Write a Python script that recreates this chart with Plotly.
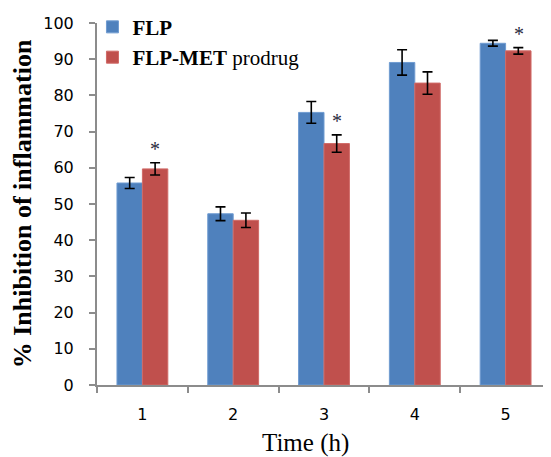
import plotly.graph_objects as go

times = ["1", "2", "3", "4", "5"]
flp = [55.8, 47.3, 75.3, 89.1, 94.4]
flp_err = [1.5, 1.9, 3.0, 3.5, 0.8]
prodrug = [59.7, 45.5, 66.7, 83.4, 92.3]
prodrug_err = [1.7, 2.0, 2.4, 3.1, 0.9]
significant = ["1", "3", "5"]  # prodrug bars marked with *
y_ticks = [0, 10, 20, 30, 40, 50, 60, 70, 80, 90, 100]

serif = "Liberation Serif"
axis_grey = "#8c8c8c"

fig = go.Figure()
fig.add_trace(go.Bar(
    x=times, y=flp, name="<b>FLP</b>",
    marker=dict(color="#4F81BD", line=dict(color="#6f9bd1", width=1)),
    error_y=dict(type="data", array=flp_err, visible=True,
                 color="black", thickness=1.6, width=5),
))
fig.add_trace(go.Bar(
    x=times, y=prodrug, name="<b>FLP-MET</b> prodrug",
    marker=dict(color="#C0504D", line=dict(color="#d06a67", width=1)),
    error_y=dict(type="data", array=prodrug_err, visible=True,
                 color="black", thickness=1.6, width=5),
))

for t in significant:
    i = times.index(t)
    fig.add_annotation(
        x=i, y=prodrug[i] + prodrug_err[i], xref="x", yref="y",
        text="*", showarrow=False, xshift=13, yshift=1,
        yanchor="bottom", font=dict(family=serif, size=20, color="#2a2a40"),
    )

fig.add_annotation(
    x=0.459, y=0, xref="paper", yref="paper", yshift=-58,
    text="Time (h)", showarrow=False, xanchor="center", yanchor="middle",
    font=dict(family=serif, size=25, color="black"),
)

fig.update_layout(
    width=543, height=449,
    margin=dict(l=89, r=0, t=15, b=72, autoexpand=False),
    plot_bgcolor="white", paper_bgcolor="white",
    barmode="group", bargap=0.44, bargroupgap=0,
    showlegend=True,
    legend=dict(x=-0.01, y=1.045, xanchor="left", yanchor="top",
                bgcolor="rgba(0,0,0,0)",
                font=dict(family=serif, size=21, color="black")),
    xaxis=dict(
        type="category", range=[-0.5, 4.5], showline=True, linecolor=axis_grey, linewidth=2,
        ticks="outside", ticklen=6, tickcolor=axis_grey, tickwidth=2,
        tickson="boundaries", ticklabelstandoff=14,
        tickfont=dict(family="DejaVu Sans", size=16, color="black"),
    ),
    yaxis=dict(
        range=[0, 100], tickvals=y_ticks, showgrid=False, zeroline=False,
        showline=True, linecolor=axis_grey, linewidth=2,
        ticks="outside", ticklen=6, tickcolor=axis_grey, tickwidth=2,
        ticklabelstandoff=12,
        tickfont=dict(family="DejaVu Sans", size=16, color="black"),
        title=dict(text="<b>% Inhibition of inflammation</b>", standoff=6,
                   font=dict(family=serif, size=26, color="black")),
    ),
)

fig.write_html("out.html")
